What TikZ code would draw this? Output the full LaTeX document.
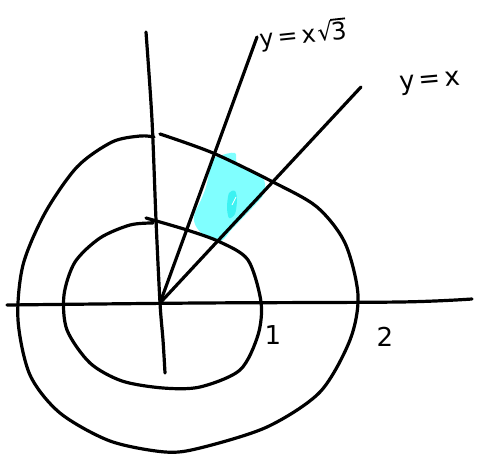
\documentclass[tikz,border=0pt]{standalone}
\usepackage{fontspec}
\setmainfont{DejaVu Sans}
\definecolor{cyanfill}{RGB}{128,255,255}
\definecolor{cyandark}{RGB}{60,242,242}
\begin{document}
\begin{tikzpicture}[x=1pt,y=-1pt,
  pen/.style={line width=3.2pt, line cap=round, line join=round},
  lbl/.style={font=\fontsize{26}{26}\selectfont, inner sep=0pt}]
\useasboundingbox (0,0) rectangle (477,455);
% shaded region
\fill[cyanfill] plot[smooth cycle, tension=0.6] coordinates {(211,160)(219,156)(235,153)(238,164)(262,177)(264,193)(252,208)(232,229)(221,241)(208,238)(197,228)(194,216)(201,200)(206,187)(209,173)};
\fill[cyandark] plot[smooth cycle] coordinates {(229,193)(235,191)(237,200)(235,214)(229,218)(227,207)};
\draw[white, line width=0.8pt] (232,205) -- (236,197);
% coordinates
\coordinate (O) at (160,303);
\coordinate (A) at (257,37);
\coordinate (B) at (361,87);
% axes
\draw[pen] plot[smooth] coordinates {(7,305)(200,303)(400,302)(472,299)};
\draw[pen] plot[smooth] coordinates {(146,32)(152,120)(156,220)(160,303)(163,340)(165,373)};
% rays
\draw[pen] (O) -- (A);
\draw[pen] (O) -- (B);
% outer curve
\draw[pen] plot[smooth] coordinates {(160,134)(213,153)(273,182)(317,207)(345,243)(358,295)(350,340)(320,392)(267,427)(200,448)(165,452)(110,441)(60,413)(30,375)(18,320)(23,265)(45,213)(77,167)(112,142)(140,136)(154,137)};
% inner curve
\draw[pen] plot[smooth] coordinates {(146,218)(187,230)(220,242)(248,260)(261,302)(258,335)(240,370)(200,387)(163,388)(122,381)(90,363)(67,330)(64,295)(75,262)(100,238)(130,225)(153,223)};
% labels
\node[lbl, font=\fontsize{24}{24}\selectfont, rotate=6] (l1) at (303,35) {y\kern4pt=\kern4pt x\kern2pt√\kern-1.5pt\rlap{\rule[19.3pt]{15pt}{1.8pt}}3};
\node[lbl, rotate=5] (l2) at (430,83) {y\kern4pt=\kern4pt x};
\node[lbl] (l3) at (273,335) {1};
\node[lbl] (l4) at (385,337) {2};
\end{tikzpicture}
\end{document}
